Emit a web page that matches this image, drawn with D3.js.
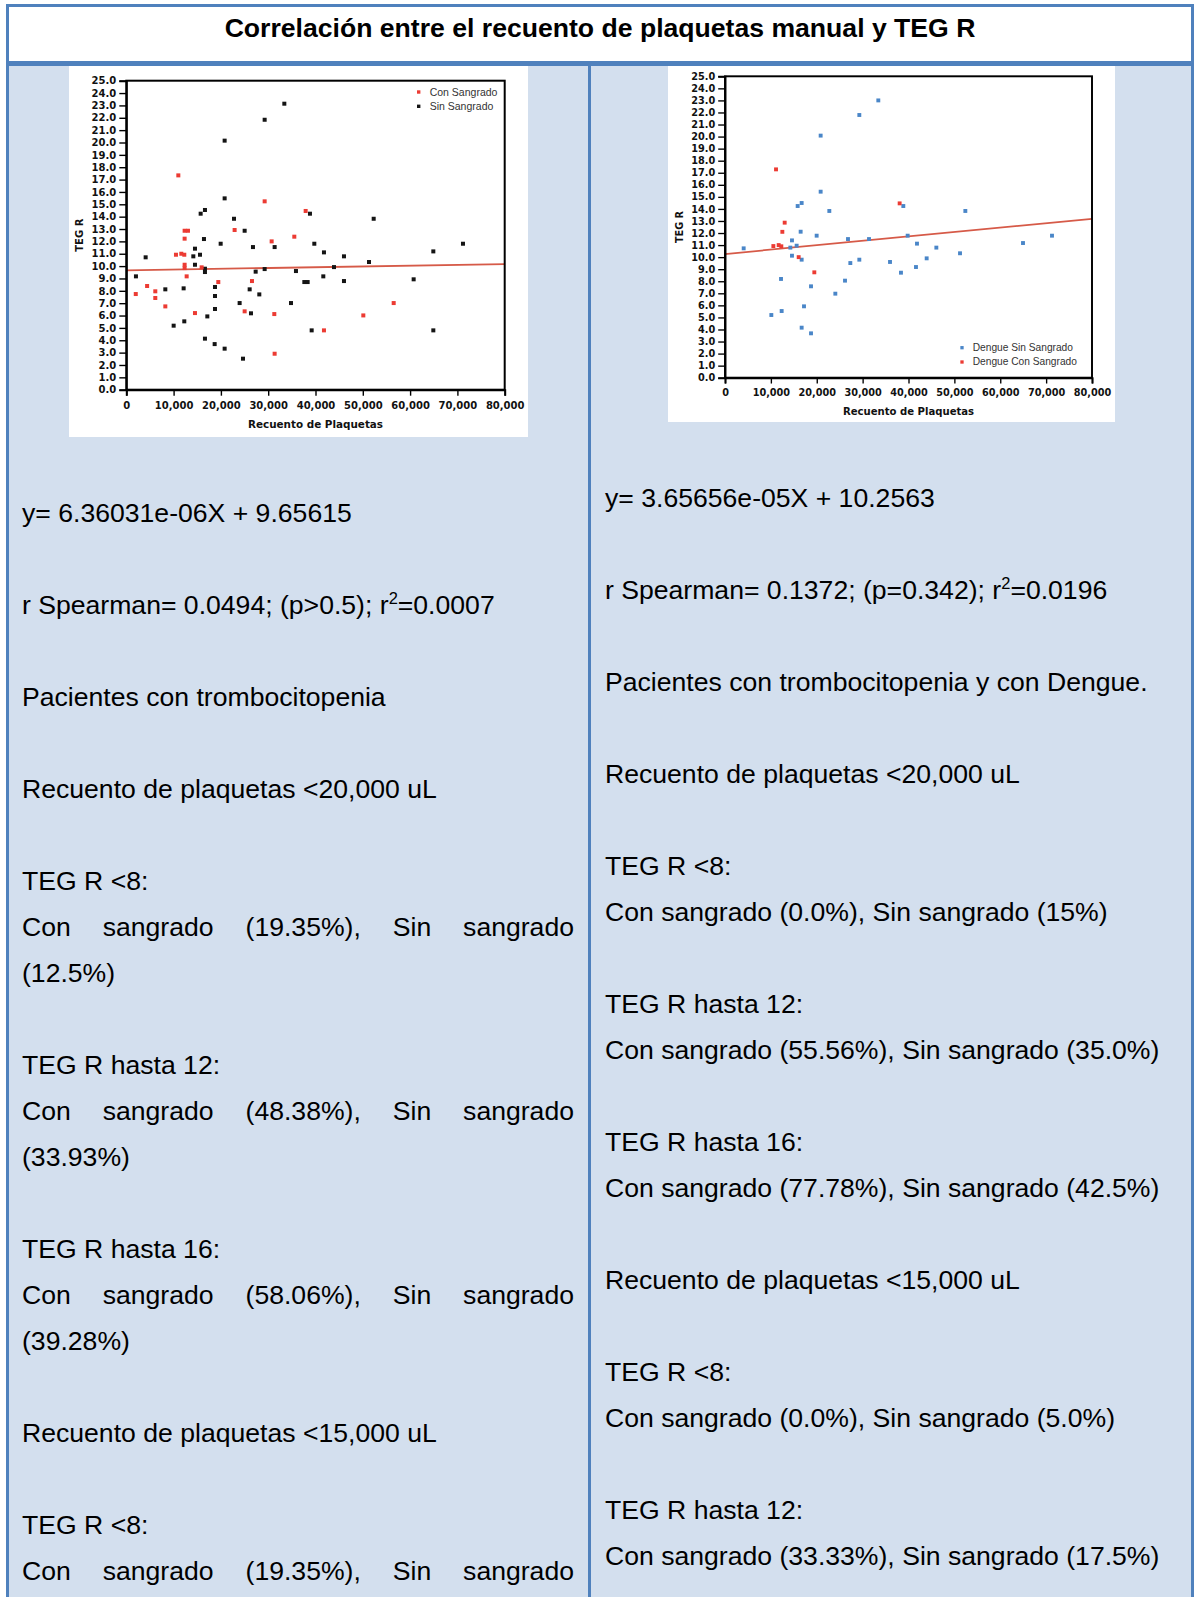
<!DOCTYPE html>
<html><head><meta charset="utf-8">
<script src="https://cdn.jsdelivr.net/npm/d3@7"></script>
<style>
html,body{margin:0;padding:0;background:#fff;}
svg{display:block;}
</style></head>
<body>
<svg id="page" width="1194" height="1597"></svg>
<script>
// ---------------- DATA ----------------
const titleText = "Correlación entre el recuento de plaquetas manual y TEG R";

const yTickValues = [0,1,2,3,4,5,6,7,8,9,10,11,12,13,14,15,16,17,18,19,20,21,22,23,24,25];
const xTickValues = [0,10000,20000,30000,40000,50000,60000,70000,80000];
const xAxisTitle = "Recuento de Plaquetas";
const yAxisTitle = "TEG R";

// Left chart: [recuento de plaquetas, TEG R]
const leftConSangrado = [
  [2000,7.74],[4400,8.39],[6130,7.96],[6130,7.42],[8250,6.74],[11000,17.34],[10500,10.92],
  [11630,11.0],[12260,10.92],[12330,12.86],[13040,12.86],[12330,12.22],[12330,10.11],[12330,9.84],
  [12760,9.17],[14520,6.2],[15930,9.9],[19450,8.71],[22900,12.92],[25020,6.34],[26570,8.79],
  [29250,15.24],[30730,12.0],[31290,6.12],[31360,2.91],[35520,12.38],[37920,14.46],[41790,4.8],
  [50110,6.01],[56530,7.01]
];
const leftSinSangrado = [
  [2040,9.17],[4090,10.71],[8250,8.12],[10010,5.18],[12120,8.2],[12260,5.53],[14170,10.79],
  [14520,11.41],[14520,10.11],[15580,10.92],[15720,14.24],[16630,14.54],[16420,12.19],[16630,9.79],
  [16630,9.52],[16630,4.13],[17130,5.93],[18680,3.69],[18750,8.31],[18750,7.58],[18750,6.53],
  [19950,11.81],[20790,20.15],[20790,15.48],[20790,3.32],[22770,13.83],[23960,7.01],[24670,2.51],
  [25020,12.86],[26080,8.12],[26360,6.18],[26780,11.54],[27350,9.55],[28120,7.71],[29250,21.84],
  [29250,9.76],[31360,11.54],[33410,23.14],[34820,7.01],[35870,9.6],[37640,8.71],[38340,8.71],
  [38830,14.24],[39190,4.8],[39750,11.81],[41790,11.11],[41650,9.17],[43910,9.92],[46020,10.79],
  [46020,8.79],[51310,10.33],[52300,13.83],[60750,8.93],[64910,11.19],[64910,4.8],[71180,11.81]
];
const leftSeriesNames = ["Con Sangrado","Sin Sangrado"];
const leftFit = {slope: 6.36031e-06, intercept: 9.65615};

// Right chart (Dengue)
const rightSinSangrado = [
  [4070,10.73],[10100,5.2],[12210,8.19],[12350,5.53],[14240,10.79],[14600,11.39],[14600,10.12],
  [15620,10.95],[15840,14.24],[16710,14.49],[16490,12.11],[16710,9.79],[16710,4.15],[17220,5.92],
  [18750,3.68],[18750,7.58],[19980,11.78],[20850,20.08],[20850,15.43],[22740,13.83],[24050,6.97],
  [26160,8.05],[26810,11.5],[27320,9.51],[29280,21.79],[29280,9.79],[31390,11.5],[33420,23.0],
  [35970,9.6],[38360,8.71],[38870,14.24],[39820,11.78],[41850,11.12],[41630,9.18],[43960,9.9],
  [46070,10.79],[51230,10.32],[52390,13.83],[64960,11.17],[71280,11.78]
];
const rightConSangrado = [
  [11120,17.28],[10540,10.92],[11700,11.0],[12280,10.9],[12500,12.1],[13010,12.86],
  [16060,10.0],[19470,8.74],[38070,14.46]
];
const rightSeriesNames = ["Dengue Sin Sangrado","Dengue Con Sangrado"];
const rightFit = {slope: 3.65656e-05, intercept: 10.2563};

// Text of the table cells (one entry per line; "" = empty line; J: = justified line; ^2 = superscript)
const leftLines = [
  "y= 6.36031e-06X + 9.65615", "",
  "r Spearman= 0.0494; (p>0.5); r^2=0.0007", "",
  "Pacientes con trombocitopenia", "",
  "Recuento de plaquetas <20,000 uL", "",
  "TEG R <8:",
  "J:Con sangrado (19.35%), Sin sangrado",
  "(12.5%)", "",
  "TEG R hasta 12:",
  "J:Con sangrado (48.38%), Sin sangrado",
  "(33.93%)", "",
  "TEG R hasta 16:",
  "J:Con sangrado (58.06%), Sin sangrado",
  "(39.28%)", "",
  "Recuento de plaquetas <15,000 uL", "",
  "TEG R <8:",
  "J:Con sangrado (19.35%), Sin sangrado"
];
const rightLines = [
  "y= 3.65656e-05X + 10.2563", "",
  "r Spearman= 0.1372; (p=0.342); r^2=0.0196", "",
  "Pacientes con trombocitopenia y con Dengue.", "",
  "Recuento de plaquetas <20,000 uL", "",
  "TEG R <8:",
  "Con sangrado (0.0%), Sin sangrado (15%)", "",
  "TEG R hasta 12:",
  "Con sangrado (55.56%), Sin sangrado (35.0%)", "",
  "TEG R hasta 16:",
  "Con sangrado (77.78%), Sin sangrado (42.5%)", "",
  "Recuento de plaquetas <15,000 uL", "",
  "TEG R <8:",
  "Con sangrado (0.0%), Sin sangrado (5.0%)", "",
  "TEG R hasta 12:",
  "Con sangrado (33.33%), Sin sangrado (17.5%)"
];

// ---------------- STYLE ----------------
const BORDER = "#4f81bd", CELL = "#d3dfee";
const RED = "#ec3b33", BLACK = "#141414", BLUE = "#4a86c8", FIT = "#d65a48";
const BODY_FONT = "'Liberation Sans', Arial, sans-serif";
const CHART_FONT = "'DejaVu Sans', Verdana, sans-serif";

const svg = d3.select("#page");

// background / cells
svg.append("rect").attr("x",0).attr("y",0).attr("width",1194).attr("height",1597).attr("fill","#fff");
svg.append("rect").attr("x",9).attr("y",66).attr("width",579).attr("height",1531).attr("fill",CELL);
svg.append("rect").attr("x",591).attr("y",66).attr("width",600).attr("height",1531).attr("fill",CELL);

// title
svg.append("text").attr("x",600).attr("y",37).attr("text-anchor","middle")
  .attr("font-family",BODY_FONT).attr("font-weight","bold").attr("font-size",26.6)
  .attr("fill","#000").text(titleText);

// ---------------- CHARTS ----------------
function drawChart(cfg) {
  const g = svg.append("g");
  g.append("rect").attr("x",cfg.img[0]).attr("y",cfg.img[1])
    .attr("width",cfg.img[2]-cfg.img[0]).attr("height",cfg.img[3]-cfg.img[1]).attr("fill","#fff");
  const s = cfg.scale;
  const x = d3.scaleLinear().domain([0,80000]).range([cfg.plot[0],cfg.plot[2]]);
  const y = d3.scaleLinear().domain([0,25]).range([cfg.plot[3],cfg.plot[1]]);

  // regression line
  const line = d3.line().x(d=>x(d)).y(d=>y(cfg.fit.slope*d+cfg.fit.intercept));
  g.append("path").datum([0,80000]).attr("d",line).attr("fill","none")
    .attr("stroke",FIT).attr("stroke-width",1.8*s);

  // points
  const ms = 4*s;
  cfg.series.forEach(ser=>{
    g.append("g").selectAll("rect").data(ser.data).join("rect")
      .attr("x",d=>x(d[0])-ms/2).attr("y",d=>y(d[1])-ms/2)
      .attr("width",ms).attr("height",ms).attr("fill",ser.color);
  });

  // frame
  g.append("rect").attr("x",cfg.plot[0]).attr("y",cfg.plot[1])
    .attr("width",cfg.plot[2]-cfg.plot[0]).attr("height",cfg.plot[3]-cfg.plot[1])
    .attr("fill","none").attr("stroke","#000").attr("stroke-width",2*s);

  // axes
  const yAxis = d3.axisLeft(y).tickValues(yTickValues).tickFormat(d3.format(".1f"))
    .tickSize(7*s).tickPadding(3*s);
  const ya = g.append("g").attr("transform",`translate(${cfg.plot[0]},0)`).call(yAxis);
  const xAxis = d3.axisBottom(x).tickValues(xTickValues)
    .tickFormat(d=> d===0 ? "0" : d3.format(",")(d)).tickSize(6*s).tickPadding(6*s);
  const xa = g.append("g").attr("transform",`translate(0,${cfg.plot[3]})`).call(xAxis);
  [ya,xa].forEach(a=>{
    a.select(".domain").attr("stroke","#000").attr("stroke-width",2*s);
    a.selectAll(".tick line").attr("stroke","#000").attr("stroke-width",1.4*s);
    a.selectAll(".tick text").attr("font-family",CHART_FONT).attr("font-weight","bold")
      .attr("font-size",10*s).attr("fill","#111");
  });

  // axis titles
  const px = (cfg.plot[0]+cfg.plot[2])/2, py = (cfg.plot[1]+cfg.plot[3])/2;
  g.append("text").attr("x",px).attr("y",cfg.plot[3]+38*s).attr("text-anchor","middle")
    .attr("font-family",CHART_FONT).attr("font-weight","bold").attr("font-size",10.4*s)
    .attr("fill","#111").text(xAxisTitle);
  g.append("text").attr("transform",`translate(${cfg.plot[0]-43*s},${py}) rotate(-90)`)
    .attr("text-anchor","middle").attr("font-family",CHART_FONT).attr("font-weight","bold")
    .attr("font-size",10*s).attr("fill","#111").text(yAxisTitle);

  // legend
  const lg = g.append("g");
  cfg.legend.items.forEach((it,i)=>{
    const ly = cfg.legend.y + i*cfg.legend.dy;
    lg.append("rect").attr("x",cfg.legend.x-1.7*s).attr("y",ly-1.7*s)
      .attr("width",3.4*s).attr("height",3.4*s).attr("fill",it.color);
    lg.append("text").attr("x",cfg.legend.x+11*s).attr("y",ly+3.6*s)
      .attr("font-family",BODY_FONT).attr("font-size",10.5*s).attr("fill","#333").text(it.name);
  });
}

drawChart({
  img:[69,66,528,437], plot:[126.3,80.7,504.7,389.7], scale:1,
  fit:leftFit,
  series:[{data:leftSinSangrado,color:BLACK},{data:leftConSangrado,color:RED}],
  legend:{x:418.7,y:92,dy:14.3,items:[{name:leftSeriesNames[0],color:RED},{name:leftSeriesNames[1],color:BLACK}]}
});
drawChart({
  img:[668,66,1115,422], plot:[725,76.3,1092,377.7], scale:0.972,
  fit:rightFit,
  series:[{data:rightSinSangrado,color:BLUE},{data:rightConSangrado,color:RED}],
  legend:{x:962,y:347.7,dy:14.3,items:[{name:rightSeriesNames[0],color:BLUE},{name:rightSeriesNames[1],color:RED}]}
});

// ---------------- TEXT COLUMNS ----------------
const FS = 26.6, PITCH = 46;
function addRich(g, x, y, str) {
  const t = g.append("text").attr("x",x).attr("y",y).attr("font-family",BODY_FONT)
    .attr("font-size",FS).attr("fill","#000");
  const parts = str.split(/\^(\d)/);
  parts.forEach((p,i)=>{
    if (i%2===1) {
      t.append("tspan").attr("font-size",FS*0.62).attr("dy",-10).text(p);
    } else if (p.length) {
      const ts = t.append("tspan").text(p);
      if (i>0) ts.attr("dy",10);
    }
  });
  return t;
}
function drawColumn(lines, x0, x1, firstBaseline) {
  const g = svg.append("g");
  lines.forEach((ln,i)=>{
    if (!ln) return;
    const yb = firstBaseline + i*PITCH;
    if (ln.startsWith("J:")) {
      const words = ln.slice(2).split(" ");
      const nodes = words.map(w=> g.append("text").attr("y",yb).attr("font-family",BODY_FONT)
        .attr("font-size",FS).attr("fill","#000").text(w));
      const widths = nodes.map(n=>n.node().getComputedTextLength());
      const total = d3.sum(widths);
      const gap = (x1-x0-total)/(words.length-1);
      let cx = x0;
      nodes.forEach((n,k)=>{ n.attr("x",cx); cx += widths[k]+gap; });
    } else {
      addRich(g, x0, yb, ln);
    }
  });
}
drawColumn(leftLines, 22, 574, 522);
drawColumn(rightLines, 605, 1177, 507);

// ---------------- BORDERS ----------------
const borders = [[6,4,1188,3],[6,4,3,1593],[1191,4,3,1593],[6,61,1188,5],[588,61,3,1536]];
svg.append("g").selectAll("rect").data(borders).join("rect")
  .attr("x",d=>d[0]).attr("y",d=>d[1]).attr("width",d=>d[2]).attr("height",d=>d[3]).attr("fill",BORDER);
</script>
</body></html>
